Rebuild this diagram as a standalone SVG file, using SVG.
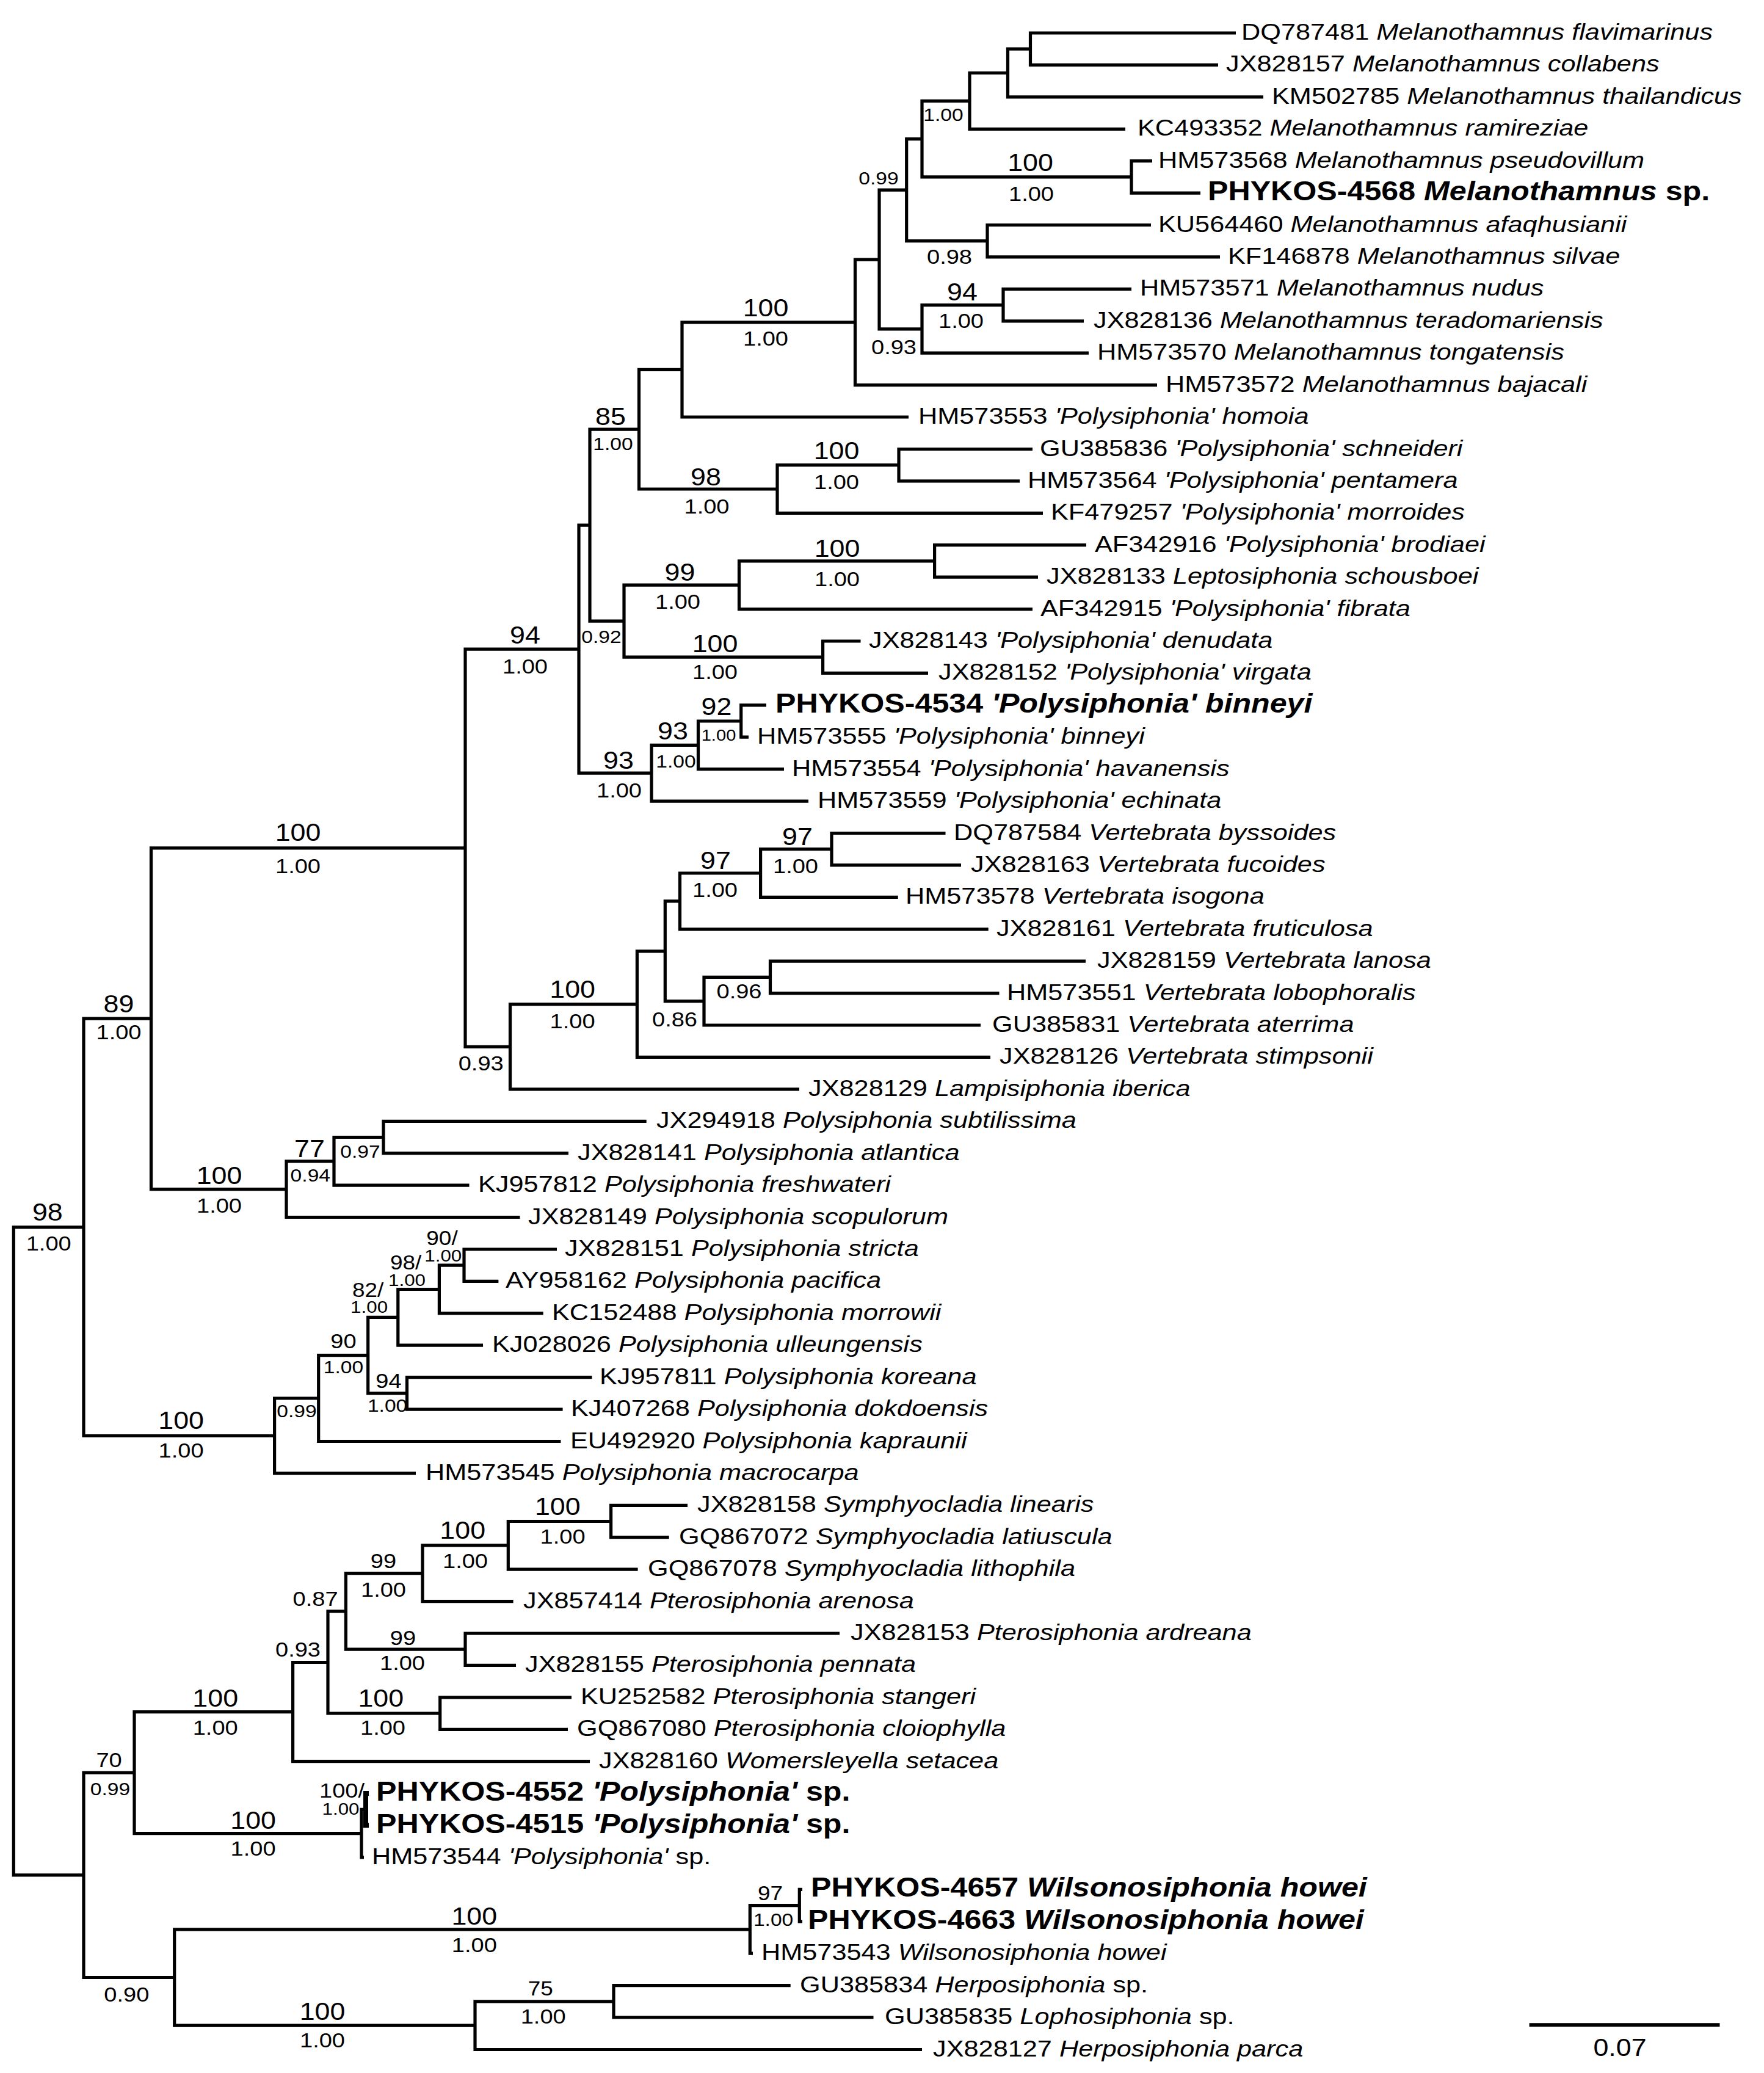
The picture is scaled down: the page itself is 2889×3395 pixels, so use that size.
<svg xmlns="http://www.w3.org/2000/svg" width="2889" height="3395" viewBox="0 0 2889 3395">
<style>
.br{fill:none;stroke:#000;stroke-width:5.2;stroke-linejoin:miter;stroke-linecap:butt}
.thick{stroke-width:8}
text{font-family:"Liberation Sans",Arial,Helvetica,sans-serif;fill:#000}
.lf{font-size:37px}
.bl{font-size:44px;font-weight:bold}
.it{font-style:italic}
.bi{font-size:40px;text-anchor:middle}
.m{font-size:34px;text-anchor:middle}
.sd{font-size:30px;text-anchor:middle}
.td{font-size:26px;text-anchor:middle}
.ki{font-size:33px;text-anchor:middle}
.kb{font-size:34px;text-anchor:middle}
.kd{font-size:28px;text-anchor:middle}
</style>
<rect x="0" y="0" width="2889" height="3395" fill="#fff"/>
<g id="branches">
<path class="br" d="M2024 54H1687.5V106.4H1995"/>
<path class="br" d="M1687.5 80.2H1650.5V158.8H2069"/>
<path class="br" d="M1650.5 119.5H1588V211.3H1843"/>
<path class="br" d="M1887 263.7H1853V316.1H1966"/>
<path class="br" d="M1588 165.4H1510V289.9H1853"/>
<path class="br" d="M1885 368.5H1617V420.9H1998"/>
<path class="br" d="M1510 227.7H1484.7V394.7H1617"/>
<path class="br" d="M1853 473.4H1643V525.8H1775"/>
<path class="br" d="M1643 499.6H1510V578.2H1783"/>
<path class="br" d="M1484.7 311.2H1440V538.9H1510"/>
<path class="br" d="M1440 425.1H1400.5V630.6H1895"/>
<path class="br" d="M1400.5 527.9H1117V683H1488"/>
<path class="br" d="M1691 735.5H1472V787.9H1670"/>
<path class="br" d="M1472 761.7H1273V840.3H1708"/>
<path class="br" d="M1117 605.4H1046.5V801H1273"/>
<path class="br" d="M1779 892.7H1530.6V945.1H1700"/>
<path class="br" d="M1530.6 918.9H1210.5V997.6H1691"/>
<path class="br" d="M1409.5 1050H1347.6V1102.4H1520"/>
<path class="br" d="M1210.5 958.2H1022V1076.2H1347.6"/>
<path class="br" d="M1046.5 703.2H966V1017.2H1022"/>
<path class="br" d="M1255 1154.8H1213.7V1207.2H1226"/>
<path class="br" d="M1213.7 1181H1143.5V1259.7H1284"/>
<path class="br" d="M1143.5 1220.3H1067V1312.1H1324"/>
<path class="br" d="M966 860.2H948V1266.2H1067"/>
<path class="br" d="M1548.5 1364.5H1362V1416.9H1574"/>
<path class="br" d="M1362 1390.7H1245.6V1469.3H1470.7"/>
<path class="br" d="M1245.6 1430H1113.5V1521.8H1618.7"/>
<path class="br" d="M1778 1574.2H1261.5V1626.6H1636.5"/>
<path class="br" d="M1261.5 1600.4H1153V1679H1606"/>
<path class="br" d="M1113.5 1475.9H1089.3V1639.7H1153"/>
<path class="br" d="M1089.3 1557.8H1043.4V1731.4H1622"/>
<path class="br" d="M1043.4 1644.6H835.5V1783.9H1309"/>
<path class="br" d="M948 1063.2H762V1714.3H835.5"/>
<path class="br" d="M1058.7 1836.3H628V1888.7H931"/>
<path class="br" d="M628 1862.5H547V1941.1H768.5"/>
<path class="br" d="M547 1901.8H469V1993.5H851.5"/>
<path class="br" d="M762 1388.8H247.5V1947.7H469"/>
<path class="br" d="M912 2046H760V2098.4H816.4"/>
<path class="br" d="M760 2072.2H719.4V2150.8H889.7"/>
<path class="br" d="M719.4 2111.5H651.8V2203.2H791"/>
<path class="br" d="M969.5 2255.6H666.5V2308.1H921.6"/>
<path class="br" d="M651.8 2157.4H602.7V2281.8H666.5"/>
<path class="br" d="M602.7 2219.6H521.7V2360.5H918.4"/>
<path class="br" d="M521.7 2290H449.6V2412.9H681"/>
<path class="br" d="M247.5 1668.2H137V2351.5H449.6"/>
<path class="br" d="M1126 2465.3H1000.6V2517.7H1095.7"/>
<path class="br" d="M1000.6 2491.5H832.3V2570.2H1044.6"/>
<path class="br" d="M832.3 2530.8H692V2622.6H840.6"/>
<path class="br" d="M1375 2675H762V2727.4H845"/>
<path class="br" d="M692 2576.7H566.4V2701.2H762"/>
<path class="br" d="M936 2779.8H720.7V2832.3H930"/>
<path class="br" d="M566.4 2638.9H537V2806H720.7"/>
<path class="br" d="M537 2722.5H479.6V2884.7H966"/>
<path class="br thick" d="M604 2937.1H599V2989.5H604"/>
<path class="br" d="M599 2963.3H592V3041.9H596"/>
<path class="br" d="M479.6 2803.6H220V3002.6H592"/>
<path class="br" d="M1314 3094.4H1309.3V3146.8H1314"/>
<path class="br" d="M1309.3 3120.6H1228.3V3199.2H1233"/>
<path class="br" d="M1294.7 3251.6H1005V3304H1430.5"/>
<path class="br" d="M1005 3277.8H778V3356.5H1510"/>
<path class="br" d="M1228.3 3159.9H285.7V3317.1H778"/>
<path class="br" d="M220 2903.1H137V3238.5H285.7"/>
<path class="br" d="M137 2009.8H22.3V3070.8H137"/>
<path class="br" d="M2504.6 3316.3H2816.5" style="stroke-width:6"/>
</g>
<g id="leaves">
<g id="t00"><text class="lf" transform="translate(2033,65) scale(1.17,1)">DQ787481 <tspan class="it">Melanothamnus flavimarinus</tspan></text></g>
<g id="t01"><text class="lf" transform="translate(2008,117.4) scale(1.17,1)">JX828157 <tspan class="it">Melanothamnus collabens</tspan></text></g>
<g id="t02"><text class="lf" transform="translate(2083,169.8) scale(1.17,1)">KM502785 <tspan class="it">Melanothamnus thailandicus</tspan></text></g>
<g id="t03"><text class="lf" transform="translate(1863,222.3) scale(1.17,1)">KC493352 <tspan class="it">Melanothamnus ramireziae</tspan></text></g>
<g id="t04"><text class="lf" transform="translate(1897,274.7) scale(1.17,1)">HM573568 <tspan class="it">Melanothamnus pseudovillum</tspan></text></g>
<g id="t05"><text class="bl" transform="translate(1978,328.1) scale(1.14,1)">PHYKOS-4568 <tspan class="it">Melanothamnus</tspan> sp.</text></g>
<g id="t06"><text class="lf" transform="translate(1897,379.5) scale(1.17,1)">KU564460 <tspan class="it">Melanothamnus afaqhusianii</tspan></text></g>
<g id="t07"><text class="lf" transform="translate(2011,431.9) scale(1.17,1)">KF146878 <tspan class="it">Melanothamnus silvae</tspan></text></g>
<g id="t08"><text class="lf" transform="translate(1867,484.4) scale(1.17,1)">HM573571 <tspan class="it">Melanothamnus nudus</tspan></text></g>
<g id="t09"><text class="lf" transform="translate(1791,536.8) scale(1.17,1)">JX828136 <tspan class="it">Melanothamnus teradomariensis</tspan></text></g>
<g id="t10"><text class="lf" transform="translate(1797,589.2) scale(1.17,1)">HM573570 <tspan class="it">Melanothamnus tongatensis</tspan></text></g>
<g id="t11"><text class="lf" transform="translate(1909,641.6) scale(1.17,1)">HM573572 <tspan class="it">Melanothamnus bajacali</tspan></text></g>
<g id="t12"><text class="lf" transform="translate(1504,694) scale(1.17,1)">HM573553 <tspan class="it">'Polysiphonia' homoia</tspan></text></g>
<g id="t13"><text class="lf" transform="translate(1703,746.5) scale(1.17,1)">GU385836 <tspan class="it">'Polysiphonia' schneideri</tspan></text></g>
<g id="t14"><text class="lf" transform="translate(1683,798.9) scale(1.17,1)">HM573564 <tspan class="it">'Polysiphonia' pentamera</tspan></text></g>
<g id="t15"><text class="lf" transform="translate(1721,851.3) scale(1.17,1)">KF479257 <tspan class="it">'Polysiphonia' morroides</tspan></text></g>
<g id="t16"><text class="lf" transform="translate(1793,903.7) scale(1.17,1)">AF342916 <tspan class="it">'Polysiphonia' brodiaei</tspan></text></g>
<g id="t17"><text class="lf" transform="translate(1714,956.1) scale(1.17,1)">JX828133 <tspan class="it">Leptosiphonia schousboei</tspan></text></g>
<g id="t18"><text class="lf" transform="translate(1704,1008.6) scale(1.17,1)">AF342915 <tspan class="it">'Polysiphonia' fibrata</tspan></text></g>
<g id="t19"><text class="lf" transform="translate(1423,1061) scale(1.17,1)">JX828143 <tspan class="it">'Polysiphonia' denudata</tspan></text></g>
<g id="t20"><text class="lf" transform="translate(1537,1113.4) scale(1.17,1)">JX828152 <tspan class="it">'Polysiphonia' virgata</tspan></text></g>
<g id="t21"><text class="bl" transform="translate(1270,1166.8) scale(1.14,1)">PHYKOS-4534 <tspan class="it">'Polysiphonia' binneyi</tspan></text></g>
<g id="t22"><text class="lf" transform="translate(1240,1218.2) scale(1.17,1)">HM573555 <tspan class="it">'Polysiphonia' binneyi</tspan></text></g>
<g id="t23"><text class="lf" transform="translate(1297,1270.7) scale(1.17,1)">HM573554 <tspan class="it">'Polysiphonia' havanensis</tspan></text></g>
<g id="t24"><text class="lf" transform="translate(1339,1323.1) scale(1.17,1)">HM573559 <tspan class="it">'Polysiphonia' echinata</tspan></text></g>
<g id="t25"><text class="lf" transform="translate(1562,1375.5) scale(1.17,1)">DQ787584 <tspan class="it">Vertebrata byssoides</tspan></text></g>
<g id="t26"><text class="lf" transform="translate(1590,1427.9) scale(1.17,1)">JX828163 <tspan class="it">Vertebrata fucoides</tspan></text></g>
<g id="t27"><text class="lf" transform="translate(1483,1480.3) scale(1.17,1)">HM573578 <tspan class="it">Vertebrata isogona</tspan></text></g>
<g id="t28"><text class="lf" transform="translate(1632,1532.8) scale(1.17,1)">JX828161 <tspan class="it">Vertebrata fruticulosa</tspan></text></g>
<g id="t29"><text class="lf" transform="translate(1797,1585.2) scale(1.17,1)">JX828159 <tspan class="it">Vertebrata lanosa</tspan></text></g>
<g id="t30"><text class="lf" transform="translate(1649,1637.6) scale(1.17,1)">HM573551 <tspan class="it">Vertebrata lobophoralis</tspan></text></g>
<g id="t31"><text class="lf" transform="translate(1625,1690) scale(1.17,1)">GU385831 <tspan class="it">Vertebrata aterrima</tspan></text></g>
<g id="t32"><text class="lf" transform="translate(1637,1742.4) scale(1.17,1)">JX828126 <tspan class="it">Vertebrata stimpsonii</tspan></text></g>
<g id="t33"><text class="lf" transform="translate(1324,1794.9) scale(1.17,1)">JX828129 <tspan class="it">Lampisiphonia iberica</tspan></text></g>
<g id="t34"><text class="lf" transform="translate(1075,1847.3) scale(1.17,1)">JX294918 <tspan class="it">Polysiphonia subtilissima</tspan></text></g>
<g id="t35"><text class="lf" transform="translate(946,1899.7) scale(1.17,1)">JX828141 <tspan class="it">Polysiphonia atlantica</tspan></text></g>
<g id="t36"><text class="lf" transform="translate(783,1952.1) scale(1.17,1)">KJ957812 <tspan class="it">Polysiphonia freshwateri</tspan></text></g>
<g id="t37"><text class="lf" transform="translate(865,2004.5) scale(1.17,1)">JX828149 <tspan class="it">Polysiphonia scopulorum</tspan></text></g>
<g id="t38"><text class="lf" transform="translate(925,2057) scale(1.17,1)">JX828151 <tspan class="it">Polysiphonia stricta</tspan></text></g>
<g id="t39"><text class="lf" transform="translate(828,2109.4) scale(1.17,1)">AY958162 <tspan class="it">Polysiphonia pacifica</tspan></text></g>
<g id="t40"><text class="lf" transform="translate(904,2161.8) scale(1.17,1)">KC152488 <tspan class="it">Polysiphonia morrowii</tspan></text></g>
<g id="t41"><text class="lf" transform="translate(806,2214.2) scale(1.17,1)">KJ028026 <tspan class="it">Polysiphonia ulleungensis</tspan></text></g>
<g id="t42"><text class="lf" transform="translate(982,2266.6) scale(1.17,1)">KJ957811 <tspan class="it">Polysiphonia koreana</tspan></text></g>
<g id="t43"><text class="lf" transform="translate(935,2319.1) scale(1.17,1)">KJ407268 <tspan class="it">Polysiphonia dokdoensis</tspan></text></g>
<g id="t44"><text class="lf" transform="translate(934,2371.5) scale(1.17,1)">EU492920 <tspan class="it">Polysiphonia kapraunii</tspan></text></g>
<g id="t45"><text class="lf" transform="translate(697,2423.9) scale(1.17,1)">HM573545 <tspan class="it">Polysiphonia macrocarpa</tspan></text></g>
<g id="t46"><text class="lf" transform="translate(1142,2476.3) scale(1.17,1)">JX828158 <tspan class="it">Symphyocladia linearis</tspan></text></g>
<g id="t47"><text class="lf" transform="translate(1112,2528.7) scale(1.17,1)">GQ867072 <tspan class="it">Symphyocladia latiuscula</tspan></text></g>
<g id="t48"><text class="lf" transform="translate(1061,2581.2) scale(1.17,1)">GQ867078 <tspan class="it">Symphyocladia lithophila</tspan></text></g>
<g id="t49"><text class="lf" transform="translate(857,2633.6) scale(1.17,1)">JX857414 <tspan class="it">Pterosiphonia arenosa</tspan></text></g>
<g id="t50"><text class="lf" transform="translate(1393,2686) scale(1.17,1)">JX828153 <tspan class="it">Pterosiphonia ardreana</tspan></text></g>
<g id="t51"><text class="lf" transform="translate(860,2738.4) scale(1.17,1)">JX828155 <tspan class="it">Pterosiphonia pennata</tspan></text></g>
<g id="t52"><text class="lf" transform="translate(951,2790.8) scale(1.17,1)">KU252582 <tspan class="it">Pterosiphonia stangeri</tspan></text></g>
<g id="t53"><text class="lf" transform="translate(945,2843.3) scale(1.17,1)">GQ867080 <tspan class="it">Pterosiphonia cloiophylla</tspan></text></g>
<g id="t54"><text class="lf" transform="translate(981,2895.7) scale(1.17,1)">JX828160 <tspan class="it">Womersleyella setacea</tspan></text></g>
<g id="t55"><text class="bl" transform="translate(616,2949.1) scale(1.14,1)">PHYKOS-4552 <tspan class="it">'Polysiphonia'</tspan> sp.</text></g>
<g id="t56"><text class="bl" transform="translate(616,3001.5) scale(1.14,1)">PHYKOS-4515 <tspan class="it">'Polysiphonia'</tspan> sp.</text></g>
<g id="t57"><text class="lf" transform="translate(609,3052.9) scale(1.17,1)">HM573544 <tspan class="it">'Polysiphonia'</tspan> sp.</text></g>
<g id="t58"><text class="bl" transform="translate(1328,3106.4) scale(1.14,1)">PHYKOS-4657 <tspan class="it">Wilsonosiphonia howei</tspan></text></g>
<g id="t59"><text class="bl" transform="translate(1323,3158.8) scale(1.14,1)">PHYKOS-4663 <tspan class="it">Wilsonosiphonia howei</tspan></text></g>
<g id="t60"><text class="lf" transform="translate(1247,3210.2) scale(1.17,1)">HM573543 <tspan class="it">Wilsonosiphonia howei</tspan></text></g>
<g id="t61"><text class="lf" transform="translate(1310,3262.6) scale(1.17,1)">GU385834 <tspan class="it">Herposiphonia</tspan> sp.</text></g>
<g id="t62"><text class="lf" transform="translate(1449,3315) scale(1.17,1)">GU385835 <tspan class="it">Lophosiphonia</tspan> sp.</text></g>
<g id="t63"><text class="lf" transform="translate(1528,3367.5) scale(1.17,1)">JX828127 <tspan class="it">Herposiphonia parca</tspan></text></g>
</g>
<g id="support">
<text class="sd" transform="translate(1545,197.7) scale(1.12,1)">1.00</text>
<text class="bi" transform="translate(1687.5,280) scale(1.12,1)">100</text>
<text class="m" transform="translate(1689,329) scale(1.12,1)">1.00</text>
<text class="sd" transform="translate(1439,301.7) scale(1.12,1)">0.99</text>
<text class="m" transform="translate(1555,432) scale(1.12,1)">0.98</text>
<text class="bi" transform="translate(1576,492) scale(1.12,1)">94</text>
<text class="m" transform="translate(1574,537) scale(1.12,1)">1.00</text>
<text class="m" transform="translate(1464,580) scale(1.12,1)">0.93</text>
<text class="bi" transform="translate(1254,518) scale(1.12,1)">100</text>
<text class="m" transform="translate(1254,566) scale(1.12,1)">1.00</text>
<text class="bi" transform="translate(1000,696) scale(1.12,1)">85</text>
<text class="sd" transform="translate(1004,737) scale(1.12,1)">1.00</text>
<text class="bi" transform="translate(1156,795) scale(1.12,1)">98</text>
<text class="m" transform="translate(1157.5,840.5) scale(1.12,1)">1.00</text>
<text class="bi" transform="translate(1370,752) scale(1.12,1)">100</text>
<text class="m" transform="translate(1370,801) scale(1.12,1)">1.00</text>
<text class="bi" transform="translate(1371,912) scale(1.12,1)">100</text>
<text class="m" transform="translate(1371,960) scale(1.12,1)">1.00</text>
<text class="bi" transform="translate(1113.5,951) scale(1.12,1)">99</text>
<text class="m" transform="translate(1110,996.6) scale(1.12,1)">1.00</text>
<text class="bi" transform="translate(1171,1067.6) scale(1.12,1)">100</text>
<text class="m" transform="translate(1171,1111.6) scale(1.12,1)">1.00</text>
<text class="sd" transform="translate(985,1053) scale(1.12,1)">0.92</text>
<text class="bi" transform="translate(1173.5,1170.6) scale(1.12,1)">92</text>
<text class="td" transform="translate(1177,1212.5) scale(1.12,1)">1.00</text>
<text class="bi" transform="translate(1102,1211.3) scale(1.12,1)">93</text>
<text class="sd" transform="translate(1107,1257) scale(1.12,1)">1.00</text>
<text class="bi" transform="translate(1013,1259.3) scale(1.12,1)">93</text>
<text class="m" transform="translate(1014,1306) scale(1.12,1)">1.00</text>
<text class="bi" transform="translate(860,1054) scale(1.12,1)">94</text>
<text class="m" transform="translate(860,1103) scale(1.12,1)">1.00</text>
<text class="bi" transform="translate(488,1376.6) scale(1.12,1)">100</text>
<text class="m" transform="translate(488,1430) scale(1.12,1)">1.00</text>
<text class="bi" transform="translate(1306,1383.6) scale(1.12,1)">97</text>
<text class="m" transform="translate(1303,1430) scale(1.12,1)">1.00</text>
<text class="bi" transform="translate(1172,1422.7) scale(1.12,1)">97</text>
<text class="m" transform="translate(1171,1469) scale(1.12,1)">1.00</text>
<text class="m" transform="translate(1210.5,1634.7) scale(1.12,1)">0.96</text>
<text class="m" transform="translate(1105,1680.8) scale(1.12,1)">0.86</text>
<text class="bi" transform="translate(937.6,1634) scale(1.12,1)">100</text>
<text class="m" transform="translate(937.6,1683.5) scale(1.12,1)">1.00</text>
<text class="bi" transform="translate(194.5,1658.3) scale(1.12,1)">89</text>
<text class="m" transform="translate(194.5,1702) scale(1.12,1)">1.00</text>
<text class="m" transform="translate(787.7,1753) scale(1.12,1)">0.93</text>
<text class="sd" transform="translate(590,1896) scale(1.12,1)">0.97</text>
<text class="bi" transform="translate(507,1895) scale(1.12,1)">77</text>
<text class="sd" transform="translate(508.3,1935) scale(1.12,1)">0.94</text>
<text class="bi" transform="translate(359,1939) scale(1.12,1)">100</text>
<text class="m" transform="translate(359,1986) scale(1.12,1)">1.00</text>
<text class="bi" transform="translate(77.8,1999) scale(1.12,1)">98</text>
<text class="m" transform="translate(79.7,2048) scale(1.12,1)">1.00</text>
<text class="ki" transform="translate(724,2039) scale(1.12,1)">90/</text>
<text class="kd" transform="translate(725.8,2066) scale(1.12,1)">1.00</text>
<text class="ki" transform="translate(664.6,2079.4) scale(1.12,1)">98/</text>
<text class="kd" transform="translate(666.5,2105.6) scale(1.12,1)">1.00</text>
<text class="ki" transform="translate(602.7,2123.8) scale(1.12,1)">82/</text>
<text class="kd" transform="translate(604.6,2150) scale(1.12,1)">1.00</text>
<text class="m" transform="translate(562.5,2208) scale(1.12,1)">90</text>
<text class="sd" transform="translate(562.5,2249) scale(1.12,1)">1.00</text>
<text class="m" transform="translate(636.5,2273) scale(1.12,1)">94</text>
<text class="sd" transform="translate(634.6,2312.4) scale(1.12,1)">1.00</text>
<text class="sd" transform="translate(486,2320.7) scale(1.12,1)">0.99</text>
<text class="bi" transform="translate(296.6,2340) scale(1.12,1)">100</text>
<text class="m" transform="translate(296.6,2387) scale(1.12,1)">1.00</text>
<text class="bi" transform="translate(913.3,2481) scale(1.12,1)">100</text>
<text class="m" transform="translate(921.6,2528) scale(1.12,1)">1.00</text>
<text class="bi" transform="translate(757.7,2520) scale(1.12,1)">100</text>
<text class="m" transform="translate(762,2568) scale(1.12,1)">1.00</text>
<text class="m" transform="translate(628,2568) scale(1.12,1)">99</text>
<text class="m" transform="translate(628,2614.5) scale(1.12,1)">1.00</text>
<text class="m" transform="translate(516.6,2629.6) scale(1.12,1)">0.87</text>
<text class="m" transform="translate(660,2694) scale(1.12,1)">99</text>
<text class="m" transform="translate(659,2734.7) scale(1.12,1)">1.00</text>
<text class="m" transform="translate(488,2713) scale(1.12,1)">0.93</text>
<text class="bi" transform="translate(623.8,2795) scale(1.12,1)">100</text>
<text class="m" transform="translate(627,2841) scale(1.12,1)">1.00</text>
<text class="bi" transform="translate(352.7,2795) scale(1.12,1)">100</text>
<text class="m" transform="translate(352.7,2841) scale(1.12,1)">1.00</text>
<text class="m" transform="translate(178.6,2893.6) scale(1.12,1)">70</text>
<text class="sd" transform="translate(180.5,2939.6) scale(1.12,1)">0.99</text>
<text class="kb" transform="translate(560,2943.5) scale(1.12,1)">100/</text>
<text class="kd" transform="translate(558,2971.5) scale(1.12,1)">1.00</text>
<text class="bi" transform="translate(414.6,2995) scale(1.12,1)">100</text>
<text class="m" transform="translate(414.6,3039) scale(1.12,1)">1.00</text>
<text class="bi" transform="translate(776.8,3151.7) scale(1.12,1)">100</text>
<text class="m" transform="translate(776.8,3197) scale(1.12,1)">1.00</text>
<text class="m" transform="translate(207.3,3278) scale(1.12,1)">0.90</text>
<text class="ki" transform="translate(885.3,3268) scale(1.12,1)">75</text>
<text class="m" transform="translate(889.7,3314) scale(1.12,1)">1.00</text>
<text class="bi" transform="translate(528,3308) scale(1.12,1)">100</text>
<text class="m" transform="translate(528,3353) scale(1.12,1)">1.00</text>
<text class="ki" transform="translate(1261.5,3112) scale(1.12,1)">97</text>
<text class="sd" transform="translate(1266.6,3154) scale(1.12,1)">1.00</text>
<text class="bi" transform="translate(2653,3367) scale(1.12,1)">0.07</text>
</g>
</svg>
